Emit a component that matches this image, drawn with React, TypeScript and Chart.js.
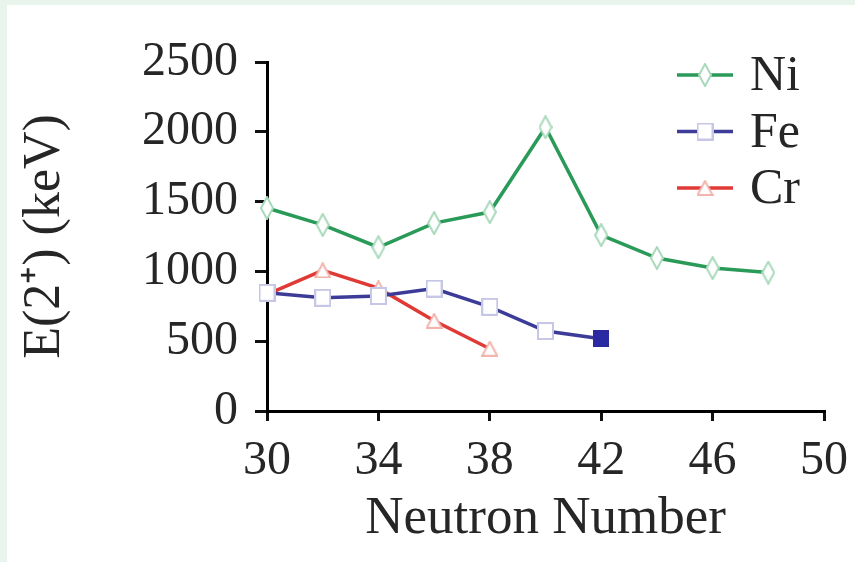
import React, { useEffect, useRef } from 'react';
import { Chart, registerables } from 'chart.js';

Chart.register(...registerables);

// ---- data ----
const neutronNi = [30, 32, 34, 36, 38, 40, 42, 44, 46, 48];
const energyNi = [1454, 1333, 1173, 1346, 1425, 2033, 1260, 1096, 1024, 992];
const neutronFe = [30, 32, 34, 36, 38, 40, 42];
const energyFe = [847, 811, 824, 877, 746, 573, 517];
const neutronCr = [30, 32, 34, 36, 38];
const energyCr = [835, 1007, 880, 646, 446];
const xTicks = [30, 34, 38, 42, 46, 50];
const yTicks = [0, 500, 1000, 1500, 2000, 2500];
const seriesNames = ['Ni', 'Fe', 'Cr'];
const xTitle = 'Neutron Number';
const yTitle = 'E(2\u207A) (keV)';

const FONT = '"Liberation Serif", "Times New Roman", serif';
const TEXT = '#262626';

type Shape = 'diamond' | 'square' | 'triangle';

function makeMarker(shape: Shape, w: number, h: number, stroke: string, fill: string): HTMLCanvasElement {
  const c = document.createElement('canvas');
  c.width = w;
  c.height = h;
  const ctx = c.getContext('2d')!;
  ctx.lineWidth = 2;
  ctx.strokeStyle = stroke;
  ctx.fillStyle = fill;
  ctx.beginPath();
  if (shape === 'diamond') {
    ctx.moveTo(w / 2, 1);
    ctx.lineTo(w - 1, h / 2);
    ctx.lineTo(w / 2, h - 1);
    ctx.lineTo(1, h / 2);
    ctx.closePath();
  } else if (shape === 'square') {
    ctx.rect(1, 1, w - 2, h - 2);
  } else {
    ctx.moveTo(w / 2, 1);
    ctx.lineTo(w - 1, h - 1);
    ctx.lineTo(1, h - 1);
    ctx.closePath();
  }
  ctx.fill();
  ctx.stroke();
  return c;
}

export default function App() {
  const ref = useRef<HTMLCanvasElement | null>(null);

  useEffect(() => {
    if (!ref.current) return;
    const niMarker = makeMarker('diamond', 14, 24, '#a9d9bb', '#ffffff');
    const feMarker = makeMarker('square', 17, 18, '#c6c6e6', '#ffffff');
    const feFilled = makeMarker('square', 16, 17, '#2a2a9c', '#2a2aa4');
    const crMarker = makeMarker('triangle', 17, 16, '#f2b4ac', '#ffffff');
    const legendMarkers = [niMarker, feMarker, crMarker];

    const legendPlugin = {
      id: 'lineLegend',
      afterDraw(chart: any) {
        const { ctx, chartArea } = chart;
        chart.data.datasets.forEach((ds: any, i: number) => {
          const y = chartArea.top + 13 + i * 56.5;
          const x0 = chartArea.right - 147;
          ctx.save();
          ctx.strokeStyle = ds.borderColor;
          ctx.lineWidth = 3.5;
          ctx.beginPath();
          ctx.moveTo(x0, y);
          ctx.lineTo(x0 + 56, y);
          ctx.stroke();
          const img = legendMarkers[i];
          ctx.drawImage(img, x0 + 28 - img.width / 2, y - img.height / 2);
          ctx.fillStyle = TEXT;
          ctx.font = `50px ${FONT}`;
          ctx.textBaseline = 'middle';
          ctx.textAlign = 'left';
          ctx.fillText(ds.label, x0 + 73, y + 2);
          ctx.restore();
        });
      },
    };

    const chart = new Chart(ref.current, {
      type: 'line',
      data: {
        datasets: [
          {
            label: seriesNames[0],
            data: neutronNi.map((x, i) => ({ x, y: energyNi[i] })),
            borderColor: '#2a9a58',
            borderWidth: 3.5,
            pointStyle: niMarker,
            pointRadius: 8,
            clip: false,
          },
          {
            label: seriesNames[1],
            data: neutronFe.map((x, i) => ({ x, y: energyFe[i] })),
            borderColor: '#3c3c98',
            borderWidth: 3.5,
            pointStyle: neutronFe.map((_, i) => (i === neutronFe.length - 1 ? feFilled : feMarker)),
            pointRadius: 8,
            clip: false,
          },
          {
            label: seriesNames[2],
            data: neutronCr.map((x, i) => ({ x, y: energyCr[i] })),
            borderColor: '#e03a36',
            borderWidth: 3.5,
            pointStyle: crMarker,
            pointRadius: 8,
            clip: false,
          },
        ] as any,
      },
      options: {
        animation: false,
        responsive: false,
        maintainAspectRatio: false,
        devicePixelRatio: 1,
        layout: { padding: { top: 57, right: 31, left: 0, bottom: 0 } },
        plugins: { legend: { display: false }, tooltip: { enabled: false } },
        scales: {
          x: {
            type: 'linear',
            min: 30,
            max: 50,
            afterBuildTicks: (s: any) => {
              s.ticks = xTicks.map((v) => ({ value: v }));
            },
            afterFit: (s: any) => {
              s.height = 151;
              s.paddingRight = 0;
            },
            ticks: {
              font: { family: FONT, size: 48 },
              color: TEXT,
              padding: 12,
              maxRotation: 0,
              callback: (v: any) => String(v),
            },
            grid: { drawOnChartArea: false, drawTicks: true, tickLength: 10, color: '#111', lineWidth: 3 },
            border: { display: true, color: '#000', width: 3 },
            title: {
              display: true,
              text: xTitle,
              font: { family: FONT, size: 53 },
              color: TEXT,
              padding: { top: 0, bottom: 11 },
            },
          },
          y: {
            type: 'linear',
            min: 0,
            max: 2500,
            afterBuildTicks: (s: any) => {
              s.ticks = yTicks.map((v) => ({ value: v }));
            },
            afterFit: (s: any) => {
              s.width = 260;
            },
            ticks: {
              font: { family: FONT, size: 48 },
              color: TEXT,
              padding: 17,
              callback: (v: any) => String(v),
            },
            grid: { drawOnChartArea: false, drawTicks: true, tickLength: 12, color: '#111', lineWidth: 3 },
            border: { display: true, color: '#000', width: 3 },
            title: {
              display: true,
              text: yTitle,
              font: { family: FONT, size: 52 },
              color: TEXT,
              padding: { top: 7, bottom: 0 },
            },
          },
        },
      } as any,
      plugins: [legendPlugin],
    });
    return () => chart.destroy();
  }, []);

  return (
    <div style={{ position: 'fixed', left: 0, top: 0, width: 855, height: 562, background: '#e9f4ec', overflow: 'hidden' }}>
      <div style={{ position: 'absolute', left: 7, top: 5, width: 848, height: 557, background: '#ffffff' }}>
        <canvas ref={ref} width={848} height={557} style={{ display: 'block', width: 848, height: 557 }} />
      </div>
    </div>
  );
}
